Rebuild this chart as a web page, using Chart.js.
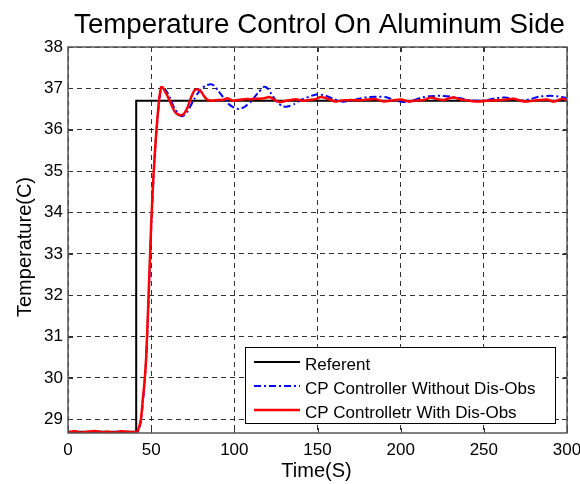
<!DOCTYPE html>
<html>
<head>
<meta charset="utf-8">
<script src="https://cdn.jsdelivr.net/npm/chart.js@4.4.1/dist/chart.umd.min.js"></script>
<style>
  body { margin: 0; background: #fff; }
  canvas { display: block; }
</style>
</head>
<body>
<canvas id="grafico" width="580" height="484"></canvas>
<script>
// tick values
const xTicks = [0, 50, 100, 150, 200, 250, 300]
const yTicks = [29, 30, 31, 32, 33, 34, 35, 36, 37, 38]

// reference step
const tRef = [0, 41, 41, 300]
const referent = [28.7, 28.7, 36.7, 36.7]

// CP controller without disturbance observer (blue)
const tNoObs = [0, 5, 10, 15, 20, 25, 30, 35, 40, 42, 43, 44, 45, 46, 47, 48, 49, 50, 51, 52, 53, 54, 55, 56, 57, 58, 60, 62, 64, 66, 68, 70, 72, 74, 76, 78, 80, 83, 86, 88, 90, 93, 96, 100, 103, 106, 110, 114, 118, 120, 123, 126, 129, 132, 136, 140, 145, 150, 155, 160, 165, 170, 175, 180, 186, 192, 197, 202, 207, 212, 217, 224, 230, 236, 241, 246, 251, 257, 263, 268, 273, 278, 283, 290, 295, 300]
const noObs = [28.68, 28.7, 28.68, 28.69, 28.7, 28.68, 28.7, 28.69, 28.68, 28.7, 28.8, 29.0, 29.4, 29.85, 30.45, 31.4, 32.5, 33.6, 34.5, 35.25, 35.85, 36.35, 36.75, 37.0, 37.05, 37.0, 36.88, 36.7, 36.52, 36.4, 36.33, 36.35, 36.45, 36.6, 36.75, 36.88, 36.98, 37.07, 37.1, 37.06, 36.96, 36.8, 36.64, 36.53, 36.5, 36.55, 36.68, 36.88, 37.04, 37.0, 36.82, 36.66, 36.57, 36.56, 36.62, 36.72, 36.8, 36.86, 36.82, 36.74, 36.68, 36.7, 36.75, 36.79, 36.8, 36.78, 36.7, 36.67, 36.7, 36.77, 36.81, 36.82, 36.8, 36.76, 36.72, 36.7, 36.71, 36.76, 36.78, 36.74, 36.7, 36.74, 36.8, 36.82, 36.8, 36.77]

// CP controller with disturbance observer (red)
const tObs = [0, 4, 8, 12, 16, 20, 24, 28, 32, 36, 40, 41.5, 43, 44, 45, 46, 47, 48, 49, 50, 51, 52, 53, 54, 55, 56, 57, 58, 60, 62, 64, 66, 68, 70, 72, 74, 76, 78, 80, 82, 84, 87, 90, 93, 96, 99, 102, 106, 110, 114, 118, 121, 124, 127, 131, 134, 137, 141, 145, 149, 152, 156, 161, 165, 170, 175, 180, 185, 190, 195, 200, 205, 210, 214, 218, 222, 226, 229, 232, 236, 240, 247, 252, 258, 263, 268, 272, 276, 281, 285, 288, 292, 297, 300]
const withObs = [28.69, 28.71, 28.68, 28.7, 28.72, 28.69, 28.7, 28.68, 28.71, 28.7, 28.69, 28.7, 28.85, 29.05, 29.5, 29.9, 30.5, 31.5, 32.6, 33.7, 34.6, 35.3, 35.9, 36.4, 36.8, 37.03, 37.02, 36.95, 36.8, 36.62, 36.45, 36.37, 36.35, 36.4, 36.55, 36.78, 36.95, 36.98, 36.92, 36.8, 36.72, 36.7, 36.72, 36.72, 36.76, 36.7, 36.72, 36.74, 36.74, 36.75, 36.76, 36.79, 36.73, 36.67, 36.7, 36.72, 36.74, 36.7, 36.72, 36.74, 36.79, 36.75, 36.68, 36.71, 36.72, 36.71, 36.73, 36.74, 36.68, 36.71, 36.73, 36.68, 36.71, 36.72, 36.78, 36.74, 36.72, 36.76, 36.78, 36.73, 36.71, 36.68, 36.7, 36.71, 36.73, 36.75, 36.7, 36.68, 36.71, 36.72, 36.73, 36.68, 36.75, 36.72]

function pares(xs, ys) {
    return xs.map((x, i) => ({ x: x, y: ys[i] }))
}

const fonte = "'Liberation Sans', Arial, sans-serif"

const legendaItens = [
    { text: 'Referent', color: '#000000', dash: [], width: 2 },
    { text: 'CP Controller Without Dis-Obs', color: '#0000ff', dash: [7, 3, 2, 3], width: 2 },
    { text: 'CP Controlletr With Dis-Obs', color: '#ff0000', dash: [], width: 2.5 }
]

// box, inner ticks, texts and legend drawn on top
const extras = {
    id: 'extras',
    afterDraw(chart) {
        const ctx = chart.ctx
        const a = chart.chartArea
        const sx = chart.scales.x
        const sy = chart.scales.y
        ctx.save()

        // inward tick marks
        ctx.strokeStyle = '#333'
        ctx.lineWidth = 1
        ctx.beginPath()
        xTicks.forEach(v => {
            const px = Math.round(sx.getPixelForValue(v)) + 0.5
            ctx.moveTo(px, a.bottom); ctx.lineTo(px, a.bottom - 5)
            ctx.moveTo(px, a.top); ctx.lineTo(px, a.top + 5)
        })
        yTicks.forEach(v => {
            const py = Math.round(sy.getPixelForValue(v)) + 0.5
            ctx.moveTo(a.left, py); ctx.lineTo(a.left + 5, py)
            ctx.moveTo(a.right, py); ctx.lineTo(a.right - 5, py)
        })
        ctx.stroke()

        // axes box
        ctx.strokeStyle = '#555'
        ctx.lineWidth = 1.5
        ctx.strokeRect(a.left, a.top, a.right - a.left, a.bottom - a.top)

        // title
        ctx.fillStyle = '#000'
        ctx.textAlign = 'center'
        ctx.textBaseline = 'alphabetic'
        ctx.font = '27.7px ' + fonte
        ctx.fillText('Temperature Control On Aluminum Side', 319.5, 33)

        // axis titles
        ctx.font = '20px ' + fonte
        ctx.fillText('Time(S)', 316.5, 476.5)
        ctx.save()
        ctx.translate(31, 247)
        ctx.rotate(-Math.PI / 2)
        ctx.fillText('Temperature(C)', 0, 0)
        ctx.restore()

        // legend
        const lx = 245, ly = 347, lw = 310, lh = 76
        ctx.fillStyle = '#fff'
        ctx.fillRect(lx, ly, lw, lh)
        ctx.strokeStyle = '#000'
        ctx.lineWidth = 1
        ctx.strokeRect(lx + 0.5, ly + 0.5, lw, lh)
        ctx.font = '17px ' + fonte
        ctx.textAlign = 'left'
        legendaItens.forEach((item, i) => {
            const base = 369.5 + i * 24
            ctx.strokeStyle = item.color
            ctx.lineWidth = item.width
            ctx.setLineDash(item.dash)
            ctx.beginPath()
            ctx.moveTo(254, base - 7.5)
            ctx.lineTo(300, base - 7.5)
            ctx.stroke()
            ctx.setLineDash([])
            ctx.fillStyle = '#000'
            ctx.fillText(item.text, 305, base)
        })
        ctx.restore()
    }
}

const config = {
    type: 'line',
    data: {
        datasets: [{
            label: 'CP Controlletr With Dis-Obs',
            data: pares(tObs, withObs),
            borderColor: '#ff0000',
            borderWidth: 2.5,
            tension: 0.2,
            order: 0
        }, {
            label: 'CP Controller Without Dis-Obs',
            data: pares(tNoObs, noObs),
            borderColor: '#0000ff',
            borderWidth: 2,
            borderDash: [7, 3, 2, 3],
            tension: 0.2,
            order: 1
        }, {
            label: 'Referent',
            data: pares(tRef, referent),
            borderColor: '#000000',
            borderWidth: 2,
            tension: 0,
            order: 2
        }]
    },
    plugins: [extras],
    options: {
        responsive: false,
        animation: false,
        events: [],
        elements: { point: { radius: 0 } },
        layout: { padding: { top: 47, right: 13, bottom: 0, left: 0 } },
        plugins: {
            legend: { display: false },
            tooltip: { enabled: false },
            title: { display: false }
        },
        scales: {
            x: {
                type: 'linear',
                min: 0,
                max: 300,
                afterBuildTicks: s => { s.ticks = xTicks.map(v => ({ value: v })) },
                afterFit: s => { s.height = 51; s.paddingLeft = 0; s.paddingRight = 0 },
                grid: { color: 'rgba(0,0,0,0.8)', lineWidth: 1, drawTicks: false },
                border: { display: false, dash: [5, 4] },
                ticks: { color: '#000', padding: 7, maxRotation: 0, font: { family: fonte, size: 17 } }
            },
            y: {
                type: 'linear',
                min: 28.67,
                max: 38,
                afterBuildTicks: s => { s.ticks = yTicks.map(v => ({ value: v })) },
                afterFit: s => { s.width = 68 },
                grid: { color: 'rgba(0,0,0,0.8)', lineWidth: 1, drawTicks: false },
                border: { display: false, dash: [5, 4] },
                ticks: { color: '#000', padding: 5, font: { family: fonte, size: 17 } }
            }
        }
    }
}

let meuGrafico = new Chart(document.getElementById('grafico'), config)
</script>
</body>
</html>
